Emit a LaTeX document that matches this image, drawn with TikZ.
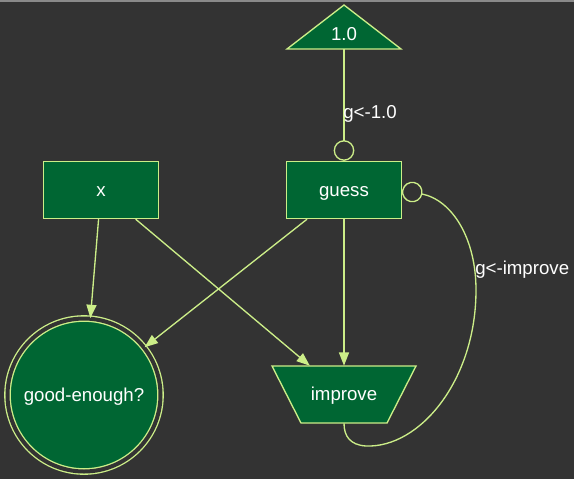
\documentclass[tikz,border=0pt]{standalone}
\usepackage{fontspec}
\setmainfont{Liberation Sans}
\usetikzlibrary{arrows.meta,shapes.geometric}
\definecolor{bgc}{HTML}{333333}
\definecolor{nodefill}{HTML}{006633}
\definecolor{linec}{HTML}{CCEE88}
\definecolor{topline}{HTML}{8A8A8A}
\tikzset{
  every node/.style={font=\fontsize{14}{16}\selectfont, text=white, text height=10pt, text depth=1pt},
  boxnode/.style={draw=linec, fill=nodefill, line width=1pt, rectangle, minimum width=115*0.75pt, minimum height=57*0.75pt, inner sep=0pt},
  trapnode/.style={rectangle, minimum width=144*0.75pt, minimum height=57*0.75pt, inner sep=0pt},
  dcircle/.style={draw=linec, fill=nodefill, line width=1pt, circle, double=bgc, double distance=3pt, minimum size=153*0.75pt, inner sep=0pt},
  shapefill/.style={draw=linec, fill=nodefill, line width=1pt, line join=miter},
  edge/.style={draw=linec, line width=1pt, -{Triangle[length=10pt,width=7.5pt,fill=linec]}},
  odotedge/.style={draw=linec, line width=1pt, -{Circle[open,length=15.5pt,width=15.5pt,line width=1pt]}},
  elabel/.style={anchor=west, inner sep=0pt}
}
\begin{document}
\begin{tikzpicture}[x=0.75pt,y=-0.75pt]
\fill[bgc] (0,0) rectangle (574,479);
\useasboundingbox (0,0) rectangle (574,479);
\draw[topline, line width=1.5pt] (0,0.5) -- (574,0.5);
% triangle node
\path[shapefill] (344,5) -- (401,49) -- (287,49) -- cycle;
\node (one) at (344,34) {1.0};
\coordinate (onebase) at (344,49);
% trapezium outline for improve
\path[shapefill] (272,366) -- (416,366) -- (387,423) -- (301,423) -- cycle;
% nodes
\node[boxnode] (x) at (101,190) {x};
\node[boxnode] (guess) at (344,190) {guess};
\node[trapnode] (improve) at (344,394.5) {improve};
\node[dcircle] (ge) at (84,395) {good-enough?};
% edges
\draw[edge] (x) -- (ge);
\draw[edge] (x) -- (improve);
\draw[edge] (guess) -- (ge);
\draw[edge] (guess) -- (improve);
\draw[odotedge] (onebase) -- (guess.north);
\node[elabel] (l1) at (343,112) {g<-1.0};
\draw[odotedge] (improve.south) .. controls (344,436) and (350,445) .. (366,446)
  .. controls (420,448) and (476,380) .. (476,290)
  .. controls (476,238) and (452,200) .. (guess.east);
\node[elabel] (l2) at (475,268) {g<-improve};
\end{tikzpicture}
\end{document}
